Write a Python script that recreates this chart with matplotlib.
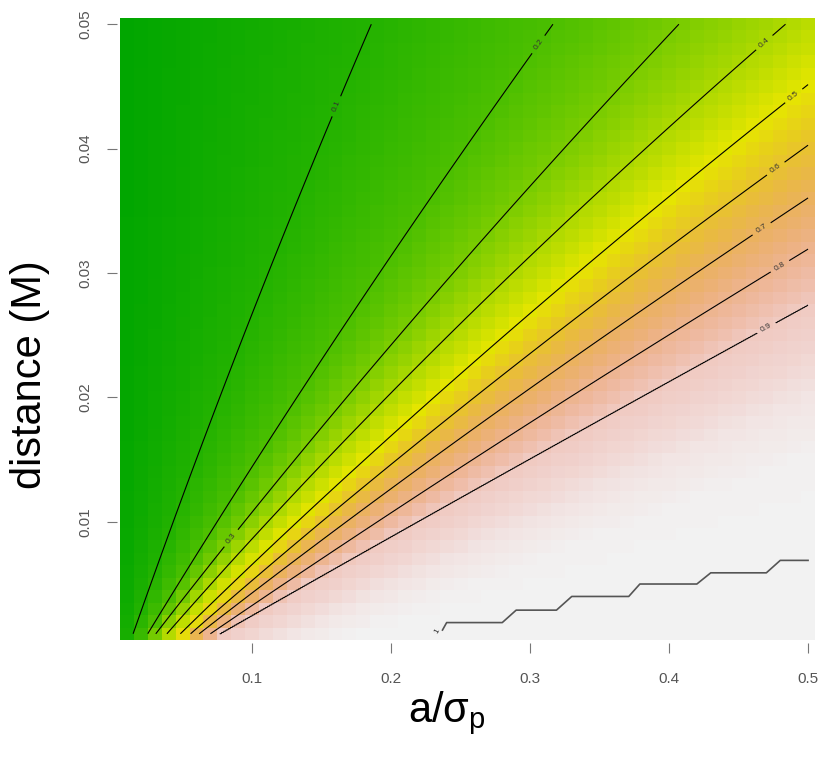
import numpy as np
import matplotlib
matplotlib.use("Agg")
import matplotlib.pyplot as plt
from matplotlib.colors import ListedColormap, hsv_to_rgb

# ---------------- data ----------------
# rows (distance) where the contour crossings were read
row_y = [0.001, 0.01, 0.02, 0.03, 0.04, 0.05]

# a/sigma_p position where each contour level crosses those rows
cross_01 = [0.014, 0.044, 0.077, 0.111, 0.148, 0.186]
cross_02 = [0.025, 0.0755, 0.131, 0.192, 0.254, 0.316]
cross_03 = [0.0315, 0.094, 0.166, 0.246, 0.326, 0.406]
cross_04 = [0.039, 0.111, 0.197, 0.286, 0.385, 0.483]
cross_05 = [0.048, 0.134, 0.230, 0.333, 0.444, 0.555]
cross_06 = [0.056, 0.151, 0.257, 0.376, 0.499, 0.622]
cross_07 = [0.063, 0.168, 0.286, 0.422, 0.557, 0.692]
cross_08 = [0.0716, 0.189, 0.325, 0.474, 0.623, 0.772]
cross_09 = [0.079, 0.215, 0.379, 0.544, 0.708, 0.873]
# estimated from the colour: where the pink fades into grey
cross_097 = [0.13, 0.30, 0.50, 0.70, 0.90, 1.10]
cross_0995 = [0.17, 0.38, 0.62, 0.86, 1.10, 1.34]
cross_10 = [0.19, 0.64, 1.14, 1.64, 2.14, 2.64]

levels = [0.1, 0.2, 0.3, 0.4, 0.5, 0.6, 0.7, 0.8, 0.9]

# the level-1 contour (staircase, bottom right)
stair_x = [0.237, 0.240, 0.280, 0.290, 0.319, 0.330, 0.371, 0.379, 0.420, 0.430, 0.470, 0.480, 0.500]
stair_y = [0.0013, 0.0019, 0.0019, 0.0029, 0.0029, 0.0040, 0.0040, 0.0050, 0.0050, 0.0059, 0.0059, 0.0069, 0.0069]

# grid of the image (cell centres)
x_grid = np.arange(1, 51) * 0.01
y_grid = np.arange(1, 51) * 0.001

# where R put the contour labels
label_pos = [(0.1666, 0.0431), (0.3046, 0.0485), (0.0838, 0.0088), (0.4687, 0.0485),
             (0.490, 0.0442), (0.4774, 0.0383), (0.4663, 0.0336), (0.4806, 0.0304),
             (0.4699, 0.0256)]

# ---------------- build the field from the crossings ----------------
crossings = [cross_01, cross_02, cross_03, cross_04, cross_05, cross_06, cross_07,
             cross_08, cross_09, cross_097, cross_0995, cross_10]
all_levels = [0.0] + levels + [0.97, 0.995, 1.0]
# smooth each read line a little (quadratic in distance) so it has no kinks
fits = [np.polyfit(row_y, c, 2) for c in crossings]


def field(xg, yg):
    out = np.zeros((len(yg), len(xg)))
    for j, yv in enumerate(yg):
        xs = np.maximum.accumulate([0.0] + [np.polyval(p, yv) for p in fits])
        out[j] = np.interp(xg, xs, all_levels)
    return out


z = field(x_grid, y_grid)
# much finer sampling only so the contour lines come out clean
xf = np.linspace(0.01, 0.5, 2451)
yf = np.linspace(0.001, 0.05, 491)
zf = field(xf, yf)

# R terrain.colors as a continuous map
t = np.linspace(0, 1, 256)
h = np.where(t < 0.5, 1/3 - t/3, (1/6) * (1 - (t - 0.5) * 2))
s = np.where(t < 0.5, 1.0, 1 - (t - 0.5) * 2)
v = np.where(t < 0.5, 0.65 + 0.5 * t, 0.9 + 0.1 * (t - 0.5))
terrain = ListedColormap(hsv_to_rgb(np.stack([h, s, v], axis=1)))

plt.rcParams['font.family'] = ['Liberation Sans', 'DejaVu Sans']
plt.rcParams['mathtext.fontset'] = 'custom'
plt.rcParams['mathtext.rm'] = 'Liberation Sans'
plt.rcParams['mathtext.it'] = 'Liberation Sans'

fig = plt.figure(figsize=(8.23, 7.58), dpi=100)
ax = fig.add_axes([120/823, 1 - 640/758, 695/823, 622/758])

ax.pcolormesh(x_grid, y_grid, z, shading='nearest', cmap=terrain, vmin=0, vmax=1)
cs = ax.contour(xf, yf, zf, levels=levels, colors='black', linewidths=0.8)
ax.clabel(cs, inline=True, fontsize=6, fmt='%g', manual=label_pos, colors='#333333')

ax.plot(stair_x, stair_y, color='#555555', lw=1.2)
ax.text(0.2334, 0.0012, '1', fontsize=6, rotation=60, ha='center', va='center', color='#333333')

ax.set_xlim(0.005, 0.505)
ax.set_ylim(0.0005, 0.0505)
ax.set_xticks([0.1, 0.2, 0.3, 0.4, 0.5])
ax.set_xticklabels(['0.1', '0.2', '0.3', '0.4', '0.5'])
ax.set_yticks([0.01, 0.02, 0.03, 0.04, 0.05])
ax.set_yticklabels(['0.01', '0.02', '0.03', '0.04', '0.05'])

for sp in ax.spines.values():
    sp.set_visible(False)
ax.spines['left'].set_position(('outward', 2))
ax.spines['bottom'].set_position(('outward', 2))

ax.tick_params(direction='out', length=7, width=0.8, color='#777777',
               labelcolor='#555555', labelsize=11, pad=14)
ax.tick_params(axis='y', labelrotation=90, pad=11)
for lab in ax.get_yticklabels():
    lab.set_va('center')

ax.set_xlabel(r'$\mathrm{a/\sigma_p}$', fontsize=30)
ax.xaxis.set_label_coords(0.47, -0.08)
ax.set_ylabel('distance (M)', fontsize=30)
ax.yaxis.set_label_coords(-0.10, 0.426)

fig.savefig('out.png', dpi=100)
